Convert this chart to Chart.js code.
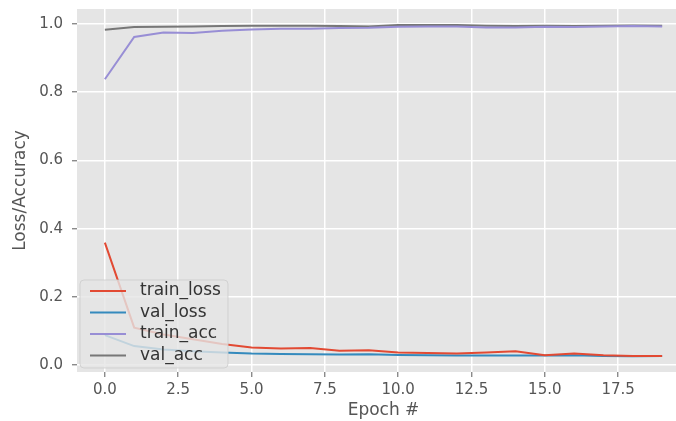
<!DOCTYPE html>
<html>
<head>
<meta charset="utf-8">
<script src="https://cdn.jsdelivr.net/npm/chart.js@4"></script>
<style>
  html, body { margin: 0; padding: 0; background: #fff; overflow: hidden; }
  #wrap { width: 692px; height: 421px; position: relative; }
</style>
</head>
<body>
<div id="wrap"><canvas id="lossChart"></canvas></div>
<script>
// values
var epochs = [0, 1, 2, 3, 4, 5, 6, 7, 8, 9, 10, 11, 12, 13, 14, 15, 16, 17, 18, 19];
var trainLoss = [0.359, 0.110, 0.090, 0.076, 0.062, 0.052, 0.049, 0.050, 0.042, 0.044,
                 0.037, 0.036, 0.034, 0.037, 0.041, 0.029, 0.034, 0.029, 0.027, 0.027];
var valLoss = [0.088, 0.056, 0.046, 0.041, 0.037, 0.034, 0.033, 0.032, 0.031, 0.032,
               0.030, 0.029, 0.028, 0.028, 0.028, 0.028, 0.029, 0.027, 0.026, 0.027];
var trainAcc = [0.838, 0.962, 0.975, 0.974, 0.980, 0.984, 0.986, 0.986, 0.988, 0.989,
                0.992, 0.993, 0.993, 0.990, 0.990, 0.992, 0.991, 0.993, 0.994, 0.993];
var valAcc = [0.983, 0.991, 0.992, 0.993, 0.994, 0.995, 0.995, 0.995, 0.994, 0.993,
              0.997, 0.997, 0.997, 0.995, 0.994, 0.995, 0.994, 0.995, 0.996, 0.995];
var xTicks = [0, 2.5, 5, 7.5, 10, 12.5, 15, 17.5];
var yTicks = [0, 0.2, 0.4, 0.6, 0.8, 1.0];

function toPoints(values) {
    return values.map(function (v, i) { return {x: epochs[i], y: v}; });
}

// stop the axes from reserving extra room for their end labels
function noLabelPadding(scale) {
    scale.paddingTop = 0;
    scale.paddingBottom = 0;
    scale.paddingLeft = 0;
    scale.paddingRight = 0;
}

// grey panel behind the plot, like the ggplot style
var panelBg = {
    id: 'panelBg',
    beforeDraw: function (chart) {
        var ca = chart.chartArea;
        var ctx = chart.ctx;
        ctx.save();
        ctx.fillStyle = '#e5e5e5';
        ctx.fillRect(ca.left, ca.top, ca.right - ca.left, ca.bottom - ca.top);
        ctx.restore();
    }
};

// legend sits inside the plot, lower left
var innerLegend = {
    id: 'innerLegend',
    afterDatasetsDraw: function (chart) {
        var ca = chart.chartArea;
        var ctx = chart.ctx;
        var w = 148, h = 88;
        var x = ca.left + 3;
        var y = ca.bottom - 4 - h;
        ctx.save();
        ctx.beginPath();
        ctx.roundRect(x, y, w, h, 4);
        ctx.fillStyle = 'rgba(229,229,229,0.8)';
        ctx.fill();
        ctx.strokeStyle = 'rgba(204,204,204,0.8)';
        ctx.lineWidth = 1;
        ctx.stroke();
        ctx.font = '17px "DejaVu Sans"';
        ctx.textBaseline = 'middle';
        chart.data.datasets.forEach(function (ds, i) {
            var ry = y + 11 + i * 21.5;
            ctx.beginPath();
            ctx.moveTo(x + 10, ry);
            ctx.lineTo(x + 46, ry);
            ctx.strokeStyle = ds.borderColor;
            ctx.lineWidth = 2;
            ctx.stroke();
            ctx.fillStyle = '#333';
            ctx.fillText(ds.label, x + 60, ry);
        });
        ctx.restore();
    }
};

var ctx = document.getElementById('lossChart').getContext('2d');

var lossChart = new Chart(ctx, {
    type: 'line',
    data: {
        datasets: [
            { label: 'train_loss', data: toPoints(trainLoss), borderColor: '#E24A33' },
            { label: 'val_loss', data: toPoints(valLoss), borderColor: '#348ABD' },
            { label: 'train_acc', data: toPoints(trainAcc), borderColor: '#988ED5' },
            { label: 'val_acc', data: toPoints(valAcc), borderColor: '#777777' }
        ]
    },
    options: {
        responsive: true,
        maintainAspectRatio: false,
        animation: false,
        layout: { padding: { top: 9, right: 2, left: 0, bottom: 0 } },
        elements: {
            point: { radius: 0 },
            line: { borderWidth: 2, tension: 0, fill: false }
        },
        plugins: {
            legend: { display: false },
            tooltip: { enabled: false }
        },
        scales: {
            x: {
                type: 'linear',
                min: -0.95,
                max: 19.95,
                afterBuildTicks: function (scale) {
                    scale.ticks = xTicks.map(function (v) { return {value: v}; });
                },
                afterFit: function (scale) {
                    scale.height = 49;
                    noLabelPadding(scale);
                },
                border: { display: false },
                grid: {
                    color: '#ffffff',
                    lineWidth: 1.5,
                    drawTicks: true,
                    tickLength: 5,
                    tickColor: '#777',
                    tickWidth: 1.2
                },
                ticks: {
                    color: '#555',
                    padding: 4,
                    maxRotation: 0,
                    font: { family: 'DejaVu Sans', size: 15 },
                    callback: function (v) { return v.toFixed(1); }
                },
                title: {
                    display: true,
                    text: 'Epoch #',
                    color: '#555',
                    padding: { top: 0, bottom: 0 },
                    font: { family: 'DejaVu Sans', size: 17 }
                }
            },
            y: {
                min: -0.02,
                max: 1.044,
                afterBuildTicks: function (scale) {
                    scale.ticks = yTicks.map(function (v) { return {value: v}; });
                },
                afterFit: function (scale) {
                    scale.width = 77;
                    noLabelPadding(scale);
                },
                border: { display: false },
                grid: {
                    color: '#ffffff',
                    lineWidth: 1.5,
                    drawTicks: true,
                    tickLength: 5,
                    tickColor: '#777',
                    tickWidth: 1.2
                },
                ticks: {
                    color: '#555',
                    padding: 9,
                    font: { family: 'DejaVu Sans', size: 15 },
                    callback: function (v) { return v.toFixed(1); }
                },
                title: {
                    display: true,
                    text: 'Loss/Accuracy',
                    color: '#555',
                    padding: { top: 10, bottom: 0 },
                    font: { family: 'DejaVu Sans', size: 17 }
                }
            }
        }
    },
    plugins: [panelBg, innerLegend]
});
</script>
</body>
</html>
